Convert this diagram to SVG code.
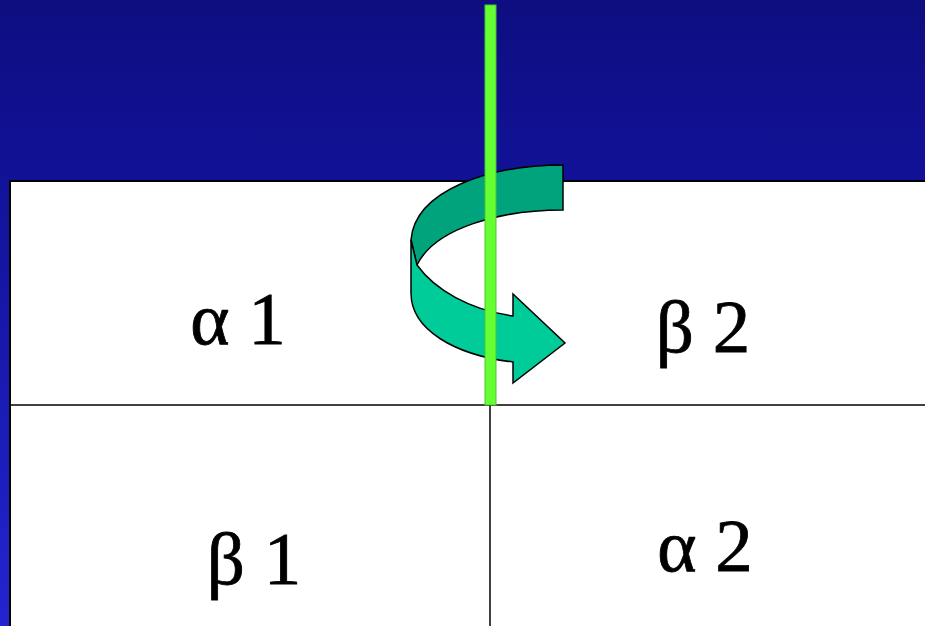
<svg xmlns="http://www.w3.org/2000/svg" width="925" height="626" viewBox="0 0 925 626">
<defs>
<linearGradient id="bg" x1="0" y1="0" x2="0" y2="1">
<stop offset="0" stop-color="#0e0e80"/>
<stop offset="0.3" stop-color="#12129a"/>
<stop offset="1" stop-color="#2424d0"/>
</linearGradient>
</defs>
<style>
.lbl{font-family:"Liberation Serif","Times New Roman",serif;font-size:75px;fill:#000;stroke:#000;stroke-width:0.8;text-anchor:middle}
.grid{stroke:#000;stroke-width:1.5;fill:none}
</style>
<rect x="0" y="0" width="925" height="626" fill="url(#bg)"/>
<g id="table">
<rect x="10" y="181" width="930" height="460" fill="#fff" stroke="#000" stroke-width="2"/>
</g>
<g id="connectors">
<line class="grid" x1="10" y1="405" x2="925" y2="405"/>
<line class="grid" x1="490" y1="405" x2="490" y2="626"/>
</g>
<g id="cell-a1"><text class="lbl" x="238" y="344">α 1</text></g>
<g id="cell-b2"><text class="lbl" x="703" y="352">β 2</text></g>
<g id="cell-b1"><text class="lbl" x="254" y="584">β 1</text></g>
<g id="cell-a2"><text class="lbl" x="705" y="571">α 2</text></g>
<g id="rotation-arrow" stroke="#000" stroke-width="1.5" stroke-linejoin="miter">
<path fill="#00a37c" d="M563,165 L563,210 C500,210 435,228 417,265 L411,240 C415,190 490,165 563,165 Z"/>
<path fill="#00cc99" d="M411,240 L411,293 C411,330 455,355 513,362 L513,383 L565,343 L513,294 L513,316 C470,310 435,290 417,265 Z"/>
</g>
<g id="axis">
<rect x="485" y="5" width="11" height="400" fill="#66ff33" stroke="#4dc433" stroke-width="1"/>
</g>
</svg>
